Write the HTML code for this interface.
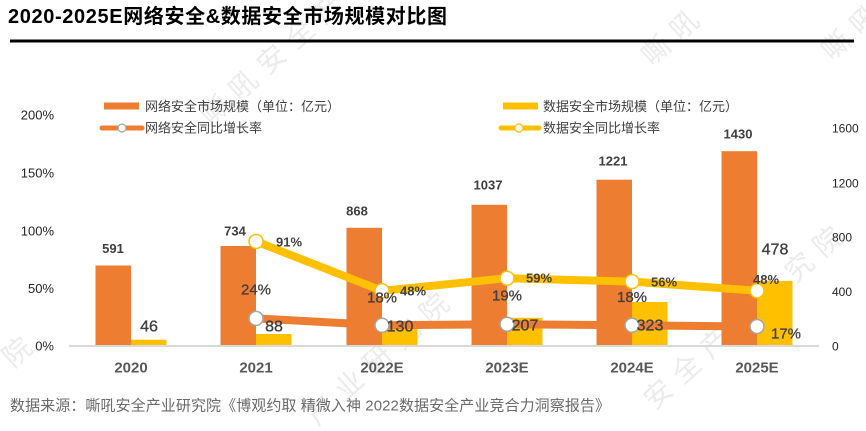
<!DOCTYPE html>
<html>
<head>
<meta charset="utf-8">
<style>
  html,body{margin:0;padding:0;background:#fff;width:866px;height:431px;overflow:hidden;}
  svg{display:block;overflow:hidden;}
  text{font-family:"Liberation Sans","Noto Sans CJK SC",sans-serif;}
</style>
</head>
<body>
<svg width="866" height="431" viewBox="0 0 866 431" xmlns="http://www.w3.org/2000/svg">
  <rect width="866" height="431" fill="#fff"/>

  <!-- watermarks (only visible characters) -->
  <g fill="#ebebeb" font-size="28" letter-spacing="10" font-family="Liberation Sans, Noto Sans CJK SC, sans-serif">
    <text transform="translate(215,110) rotate(-42)" x="-14" y="10">嘶吼安全产</text>
    <text transform="translate(321,410) rotate(-42)" x="-14" y="10">产业研究院</text>
    <text transform="translate(658,394) rotate(-42)" x="-14" y="10">安全产业研究院</text>
    <text transform="translate(656,50) rotate(-42)" x="-14" y="10">嘶吼</text>
    <text transform="translate(836,45) rotate(-42)" x="-14" y="10">嘶吼</text>
    <text transform="translate(17,352) rotate(-42)" x="-14" y="10">院</text>
  </g>

  <!-- title -->
  <text x="8" y="23" font-size="20" font-weight="bold" fill="#000" textLength="439" lengthAdjust="spacing">2020-2025E网络安全&amp;数据安全市场规模对比图</text>
  <rect x="10" y="39.5" width="844" height="3" fill="#000"/>

  <!-- legend -->
  <rect x="104" y="102.5" width="35" height="7" fill="#ED7D31"/>
  <text x="145" y="111" font-size="13" fill="#404040">网络安全市场规模（单位：亿元）</text>
  <line x1="102" y1="128" x2="142" y2="128" stroke="#ED7D31" stroke-width="5" stroke-linecap="round"/>
  <circle cx="122" cy="128" r="4" fill="#fff" stroke="#a6a6a6" stroke-width="1.2"/>
  <text x="145" y="132.5" font-size="13" fill="#404040">网络安全同比增长率</text>

  <rect x="503" y="102.5" width="35" height="7" fill="#FFC000"/>
  <text x="543" y="111" font-size="13" fill="#404040">数据安全市场规模（单位：亿元）</text>
  <line x1="501" y1="128" x2="539" y2="128" stroke="#FFC000" stroke-width="5" stroke-linecap="round"/>
  <circle cx="519" cy="128" r="4" fill="#fff" stroke="#FFC000" stroke-width="1.2"/>
  <text x="543" y="132.5" font-size="13" fill="#404040">数据安全同比增长率</text>

  <!-- left axis labels -->
  <g font-size="13" fill="#262626" text-anchor="end">
    <text x="54" y="119.5">200%</text>
    <text x="54" y="177.5">150%</text>
    <text x="54" y="235.5">100%</text>
    <text x="54" y="293">50%</text>
    <text x="54" y="350.5">0%</text>
  </g>
  <!-- right axis labels -->
  <g font-size="12" fill="#262626">
    <text x="832" y="132.5">1600</text>
    <text x="832" y="187.5">1200</text>
    <text x="832" y="241.5">800</text>
    <text x="832" y="296">400</text>
    <text x="832" y="350.5">0</text>
  </g>

  <!-- bars: orange -->
  <g fill="#ED7D31">
    <rect x="95.5" y="265.5" width="35.5" height="80.5"/>
    <rect x="220.5" y="246" width="35.5" height="100"/>
    <rect x="346.5" y="227.8" width="35.5" height="118.2"/>
    <rect x="471.5" y="204.8" width="35.5" height="141.2"/>
    <rect x="596.5" y="179.7" width="35.5" height="166.3"/>
    <rect x="721.5" y="151.2" width="35.5" height="194.8"/>
  </g>
  <!-- bars: yellow -->
  <g fill="#FFC000">
    <rect x="131" y="339.7" width="35.5" height="6.3"/>
    <rect x="256" y="334" width="35.5" height="12"/>
    <rect x="382" y="328.3" width="35.5" height="17.7"/>
    <rect x="507" y="317.8" width="35.5" height="28.2"/>
    <rect x="632" y="302" width="35.5" height="44"/>
    <rect x="757" y="280.9" width="35.5" height="65.1"/>
  </g>

  <!-- baseline -->
  <rect x="69" y="345" width="750" height="2" fill="#d9d9d9"/>

  <!-- orange line -->
  <polyline points="256,318.4 382,325.3 507,324.2 632,325.3 757,326.5" fill="none" stroke="#ED7D31" stroke-width="8" stroke-linejoin="round"/>
  <g fill="#fff" stroke="#a6a6a6" stroke-width="1.5">
    <circle cx="256" cy="318.4" r="7"/>
    <circle cx="382" cy="325.3" r="7"/>
    <circle cx="507" cy="324.2" r="7"/>
    <circle cx="632" cy="325.3" r="7"/>
    <circle cx="757" cy="326.5" r="7"/>
  </g>

  <!-- yellow line -->
  <polyline points="256,241.4 382,290.8 507,278.2 632,281.6 757,290.8" fill="none" stroke="#FFC000" stroke-width="8" stroke-linejoin="round"/>
  <g fill="#fff" stroke="#FFC000" stroke-width="1.5">
    <circle cx="256" cy="241.4" r="7"/>
    <circle cx="382" cy="290.8" r="7"/>
    <circle cx="507" cy="278.2" r="7"/>
    <circle cx="632" cy="281.6" r="7"/>
    <circle cx="757" cy="290.8" r="7"/>
  </g>

  <!-- orange bar values -->
  <g font-size="13" font-weight="bold" fill="#404040" text-anchor="middle">
    <text x="113" y="253">591</text>
    <text x="235" y="235.5">734</text>
    <text x="357" y="215.5">868</text>
    <text x="488" y="189.5">1037</text>
    <text x="613" y="165.5">1221</text>
    <text x="738" y="138.5">1430</text>
  </g>

  <!-- yellow bar values -->
  <g font-size="16" fill="#404040" stroke="#404040" stroke-width="0.35" text-anchor="middle">
    <text x="149" y="331.5">46</text>
    <text x="274" y="331.5">88</text>
    <text x="400" y="331.5">130</text>
    <text x="525" y="330.5">207</text>
    <text x="650" y="330.5">323</text>
    <text x="775" y="254.5">478</text>
  </g>

  <!-- yellow line % labels -->
  <g font-size="13" font-weight="bold" fill="#404040" text-anchor="middle">
    <text x="289" y="246.5">91%</text>
    <text x="413" y="295.5">48%</text>
    <text x="539" y="282.5">59%</text>
    <text x="664" y="286.5">56%</text>
    <text x="766" y="284">48%</text>
  </g>

  <!-- orange line % labels -->
  <g font-size="15" fill="#404040" stroke="#404040" stroke-width="0.3" text-anchor="middle">
    <text x="256" y="294.5">24%</text>
    <text x="382" y="302.5">18%</text>
    <text x="507" y="300.5">19%</text>
    <text x="632" y="302">18%</text>
    <text x="786" y="338.5">17%</text>
  </g>

  <!-- category labels -->
  <g font-size="15" font-weight="bold" fill="#595959" text-anchor="middle">
    <text x="131" y="372.5">2020</text>
    <text x="256" y="372.5">2021</text>
    <text x="382" y="372.5">2022E</text>
    <text x="507" y="372.5">2023E</text>
    <text x="632" y="372.5">2024E</text>
    <text x="757" y="372.5">2025E</text>
  </g>

  <!-- source -->
  <text x="10" y="410.5" font-size="15" fill="#6b6b6b" textLength="600" lengthAdjust="spacing">数据来源：嘶吼安全产业研究院《博观约取 精微入神 2022数据安全产业竞合力洞察报告》</text>
</svg>
</body>
</html>
